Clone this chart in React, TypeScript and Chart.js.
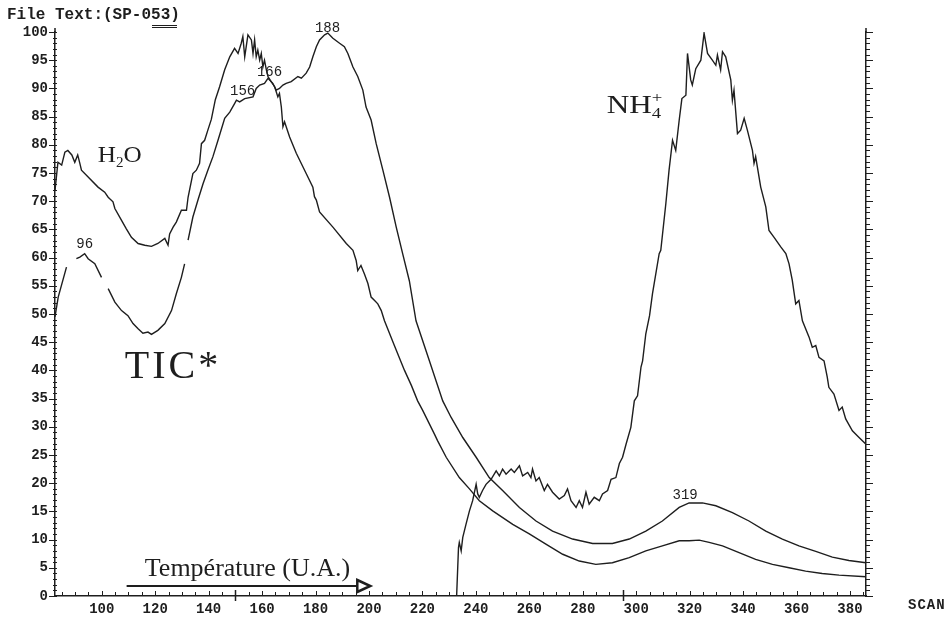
import React, { useEffect, useRef } from 'react';
import { Chart, registerables } from 'chart.js';

Chart.register(...registerables);

const MONO = '"Liberation Mono", "DejaVu Sans Mono", monospace';
const SERIF = '"Liberation Serif", "DejaVu Serif", serif';
const INK = '#1e1e1e';

// ---- axes ----
const xMin = 82.5;
const xMax = 386;
const xTickLabels = [100, 120, 140, 160, 180, 200, 220, 240, 260, 280, 300, 320, 340, 360, 380];
const yTickLabels = [0, 5, 10, 15, 20, 25, 30, 35, 40, 45, 50, 55, 60, 65, 70, 75, 80, 85, 90, 95, 100];
const longTickX = [150, 295];

// ---- H2O trace ----
const h2oX = [82.5, 83.6, 85.0, 86.2, 87.3, 88.8, 89.9, 91.0, 91.8, 92.4, 94.9, 98.6, 101.1, 102.4, 104.2, 104.9, 107.4, 109.2, 111.1, 113.6, 116.1, 118.6, 121.0, 123.6, 124.8, 125.4, 126.7, 127.9, 129.8, 131.7, 132.3, 134.1, 135.4, 136.6, 137.3, 138.5, 139.7, 141.0, 142.5, 144.1, 146.0, 147.9, 149.7, 151.0, 152.2, 152.8, 153.5, 154.7, 156.0, 156.6, 157.2, 157.8, 158.4, 159.1, 159.7, 160.3, 160.9, 161.6, 162.2, 163.4, 164.7, 165.9, 166.5, 167.2, 167.8, 168.4, 170.3, 172.8, 176.5, 179.0, 179.6, 180.3, 181.5, 186.5, 191.5, 194.0, 195.2, 195.8, 197.0, 198.3, 199.6, 200.8, 202.1, 203.3, 204.6, 205.8, 209.5, 213.3, 215.9, 218.2, 220.1, 224.5, 225.7, 228.9, 233.8, 237.6, 241.3, 246.3, 253.8, 260.0, 266.2, 272.5, 278.7, 284.9, 291.1, 297.4, 303.6, 309.8, 316.1, 319.8, 323.6, 327.3, 332.3, 338.5, 344.7, 351.0, 357.2, 363.4, 369.6, 375.9, 386];
const h2oY = [71.9, 76.9, 76.4, 78.7, 79.0, 78.2, 76.9, 78.2, 76.7, 75.5, 74.3, 72.5, 71.6, 70.7, 69.9, 68.7, 66.6, 65.1, 63.6, 62.5, 62.2, 62.0, 62.5, 63.4, 62.2, 64.2, 65.4, 66.3, 68.4, 68.4, 70.7, 74.9, 75.5, 76.7, 80.2, 80.8, 82.6, 84.5, 88.0, 90.3, 93.3, 95.6, 97.1, 96.2, 98.0, 99.2, 95.6, 99.5, 98.6, 96.2, 98.6, 95.6, 96.8, 95.0, 96.2, 93.8, 95.0, 93.3, 92.1, 91.2, 90.3, 88.5, 89.1, 86.7, 83.2, 84.1, 81.4, 78.5, 74.9, 72.5, 70.8, 70.2, 68.1, 65.4, 62.5, 61.3, 59.5, 57.7, 58.6, 57.1, 55.4, 53.0, 52.4, 51.8, 50.6, 48.8, 44.4, 40.0, 37.3, 34.6, 32.9, 28.7, 27.5, 24.6, 21.0, 19.0, 16.9, 15.1, 12.7, 11.0, 9.2, 7.4, 6.2, 5.6, 5.9, 6.8, 8.0, 8.9, 9.8, 9.8, 9.9, 9.5, 8.9, 7.7, 6.5, 5.6, 5.0, 4.4, 4.0, 3.7, 3.4];

// ---- TIC trace (null = printing gap) ----
const ticX = [82.5, 83.7, 86.8, 88.6, 90.5, 91.8, 93.6, 94.9, 97.4, 99.9, 101.0, 102.4, 104.9, 107.4, 109.8, 111.7, 113.6, 115.4, 117.3, 118.6, 121.0, 123.6, 126.1, 127.9, 129.8, 131.0, 131.6, 132.3, 134.1, 136.0, 137.9, 139.7, 141.6, 143.5, 146.0, 147.9, 149.7, 150.4, 151.6, 153.5, 156.6, 157.8, 159.1, 160.9, 162.2, 164.0, 165.3, 166.5, 167.8, 169.0, 170.9, 173.4, 174.7, 176.5, 177.8, 179.0, 180.3, 181.5, 183.4, 184.6, 186.5, 189.0, 190.8, 192.1, 194.0, 195.8, 197.7, 198.9, 200.8, 202.7, 205.2, 207.7, 210.2, 212.6, 215.1, 217.6, 222.6, 227.6, 230.7, 235.1, 240.1, 245.0, 250.0, 256.3, 262.5, 268.7, 276.2, 283.7, 291.1, 297.4, 303.6, 309.8, 316.1, 319.8, 324.8, 329.8, 336.0, 342.2, 348.5, 354.7, 360.9, 367.2, 373.4, 379.6, 386];
const ticY = [49.5, 53.0, 58.3, null, 59.8, 60.1, 60.7, 59.8, 58.9, 56.5, null, 54.5, 52.1, 50.6, 49.7, 48.3, 47.4, 46.6, 46.8, 46.4, 47.1, 48.3, 50.6, 53.6, 56.5, 58.9, null, 63.1, 67.2, 70.2, 73.1, 75.5, 77.9, 80.8, 84.7, 85.8, 87.3, 87.9, 87.6, 88.2, 88.5, 90.0, 90.6, 90.9, 91.8, 90.9, 89.7, 90.0, 90.6, 90.9, 91.2, 92.1, 91.8, 92.7, 93.8, 95.6, 97.4, 98.6, 99.5, 99.8, 98.9, 98.0, 97.4, 96.2, 93.8, 92.1, 89.7, 86.7, 84.4, 80.2, 75.5, 70.7, 65.4, 60.7, 55.9, 48.8, 41.7, 34.6, 31.7, 28.1, 24.6, 21.0, 18.7, 15.7, 13.3, 11.5, 10.1, 9.3, 9.3, 10.1, 11.5, 13.3, 15.7, 16.5, 16.5, 16.0, 14.8, 13.3, 11.5, 10.1, 8.9, 7.9, 6.9, 6.3, 5.9];

// ---- NH4+ trace ----
const nh4X = [232.8, 233.5, 233.8, 234.5, 235.1, 236.3, 237.6, 238.8, 240.1, 240.7, 241.3, 242.5, 243.8, 245.7, 247.6, 248.8, 250.0, 251.3, 253.2, 254.4, 256.3, 257.5, 259.4, 260.6, 261.2, 262.5, 263.7, 265.6, 266.8, 268.7, 271.2, 273.1, 274.3, 275.6, 277.5, 278.7, 279.9, 281.2, 282.4, 284.3, 286.2, 287.4, 289.3, 290.6, 292.4, 293.7, 294.9, 296.2, 298.0, 299.3, 300.5, 301.8, 302.4, 303.6, 305.0, 306.1, 308.6, 309.2, 311.1, 312.3, 313.6, 314.8, 316.1, 317.1, 318.6, 319.2, 320.4, 321.0, 322.3, 324.2, 325.4, 326.7, 328.5, 329.8, 330.4, 331.6, 332.3, 333.5, 335.4, 336.0, 336.6, 337.9, 339.1, 340.4, 341.6, 343.5, 344.1, 344.7, 346.6, 348.5, 349.7, 351.6, 354.1, 356.0, 357.2, 358.4, 359.7, 360.9, 362.2, 364.7, 365.9, 367.2, 368.4, 370.3, 371.5, 372.1, 374.0, 375.9, 377.1, 378.4, 380.9, 383.4, 386];
const nh4Y = [0, 8.6, 9.5, 8.0, 10.4, 12.7, 15.1, 16.9, 19.8, 18.1, 17.5, 18.7, 19.8, 20.7, 22.2, 21.3, 22.5, 21.6, 22.5, 21.9, 23.1, 21.3, 21.9, 21.0, 22.5, 20.4, 21.0, 18.7, 19.8, 18.4, 17.2, 17.8, 19.0, 16.9, 15.7, 16.9, 15.7, 18.4, 16.3, 17.5, 16.9, 18.1, 18.7, 20.7, 21.0, 23.5, 24.6, 26.9, 29.9, 34.6, 35.5, 40.6, 41.7, 46.5, 49.7, 53.6, 60.7, 61.3, 69.6, 75.5, 80.8, 79.0, 84.4, 88.2, 88.8, 96.2, 91.5, 90.6, 93.5, 95.0, 99.8, 96.2, 95.0, 94.1, 95.9, 93.3, 96.5, 95.6, 91.5, 87.9, 89.7, 82.0, 82.6, 84.7, 82.6, 79.0, 76.7, 77.9, 72.5, 69.0, 64.8, 63.6, 61.9, 60.7, 58.9, 56.0, 51.8, 52.4, 48.8, 45.9, 44.1, 44.4, 42.3, 41.7, 38.8, 37.0, 35.8, 32.9, 33.5, 31.4, 29.3, 28.1, 26.9];

// ---- peak scan numbers ----
const peakText = ['96', '156', '166', '188', '319'];
const peakX = [93.6, 152.7, 162.8, 184.5, 318.3];
const peakY = [62.3, 89.5, 92.9, 100.7, 17.9];

const minorX: number[] = [];
for (let v = 85; v <= 385; v += 5) minorX.push(v);
const minorY: number[] = [];
for (let v = 0; v <= 100; v += 1) minorY.push(v);

const pts = (xs: number[], ys: (number | null)[]) => xs.map((x, i) => ({ x, y: ys[i] }));

const lineStyle = {
  borderColor: INK,
  borderWidth: 1.4,
  pointRadius: 0,
  tension: 0,
  fill: false,
  spanGaps: false,
};

// parts: [text, kind, stack] — kind '' | 'sub' | 'sup'; stack = draw at same x as previous piece
function drawChem(
  ctx: CanvasRenderingContext2D,
  x: number,
  y: number,
  size: number,
  stretch: number,
  parts: [string, string, boolean][]
) {
  ctx.save();
  ctx.translate(x, y);
  ctx.scale(stretch, 1);
  let cx = 0;
  let prevX = 0;
  for (const [t, kind, stack] of parts) {
    const s = kind === '' ? size : size * 0.6;
    ctx.font = `${s}px ${SERIF}`;
    const dy = kind === 'sub' ? size * 0.2 : kind === 'sup' ? -size * 0.42 : 0;
    const px = stack ? prevX : cx;
    ctx.fillText(t, px, dy);
    prevX = px;
    cx = Math.max(cx, px + ctx.measureText(t).width);
  }
  ctx.restore();
}

const annotPlugin = {
  id: 'annot',
  afterDraw(chart: any) {
    const ctx: CanvasRenderingContext2D = chart.ctx;
    const { left, right, top, bottom } = chart.chartArea;
    const xs = chart.scales.x;
    const ys = chart.scales.y;
    ctx.save();
    ctx.strokeStyle = INK;
    ctx.fillStyle = INK;
    ctx.lineWidth = 1;

    // x tick marks (inside, upward)
    for (const t of xs.ticks) {
      const p = Math.round(xs.getPixelForValue(t.value)) + 0.5;
      const major = t.value % 20 === 0;
      ctx.beginPath();
      ctx.moveTo(p, bottom);
      ctx.lineTo(p, bottom - (major ? 5 : 4));
      ctx.stroke();
    }
    ctx.lineWidth = 1.5;
    for (const v of longTickX) {
      const p = Math.round(xs.getPixelForValue(v)) + 0.5;
      ctx.beginPath();
      ctx.moveTo(p, bottom + 5);
      ctx.lineTo(p, bottom - 6);
      ctx.stroke();
    }
    ctx.lineWidth = 1;
    // left y tick marks
    for (const t of ys.ticks) {
      const p = Math.round(ys.getPixelForValue(t.value)) + 0.5;
      const major = t.value % 5 === 0;
      ctx.beginPath();
      ctx.moveTo(left - (major ? 6 : 2), p);
      ctx.lineTo(left + 2, p);
      ctx.stroke();
    }
    // right y tick marks
    for (const t of ys.ticks) {
      const p = Math.round(ys.getPixelForValue(t.value)) + 0.5;
      const major = t.value % 5 === 0;
      ctx.beginPath();
      ctx.moveTo(right, p);
      ctx.lineTo(right + (major ? 7 : 4), p);
      ctx.stroke();
    }
    // axis extensions above 100
    ctx.lineWidth = 1.5;
    ctx.beginPath();
    ctx.moveTo(left, top);
    ctx.lineTo(left, top - 4);
    ctx.moveTo(right, top);
    ctx.lineTo(right, top - 4);
    ctx.stroke();

    // header
    ctx.font = `bold 16px ${MONO}`;
    ctx.textBaseline = 'middle';
    ctx.textAlign = 'left';
    ctx.fillText('File Text:(SP-053)', 7, 15);
    ctx.lineWidth = 1;
    ctx.beginPath();
    ctx.moveTo(152, 25.5);
    ctx.lineTo(177, 25.5);
    ctx.moveTo(152, 27.5);
    ctx.lineTo(177, 27.5);
    ctx.stroke();

    // SCAN
    ctx.font = `bold 14px ${MONO}`;
    (ctx as any).letterSpacing = '1px';
    ctx.fillText('SCAN', 908, 605);
    (ctx as any).letterSpacing = '0px';

    // peak numbers
    ctx.font = `14px ${MONO}`;
    ctx.textAlign = 'center';
    peakText.forEach((t, i) => {
      ctx.fillText(t, xs.getPixelForValue(peakX[i]), ys.getPixelForValue(peakY[i]));
    });

    // species labels
    ctx.textAlign = 'left';
    ctx.textBaseline = 'alphabetic';
    drawChem(ctx, xs.getPixelForValue(98.5), ys.getPixelForValue(76.9), 24, 1.05, [
      ['H', '', false],
      ['2', 'sub', false],
      ['O', '', false],
    ]);
    drawChem(ctx, xs.getPixelForValue(289.0), ys.getPixelForValue(85.6), 26, 1.2, [
      ['NH', '', false],
      ['4', 'sub', false],
      ['+', 'sup', true],
    ]);
    ctx.font = `40px ${SERIF}`;
    (ctx as any).letterSpacing = '3px';
    ctx.fillText('TIC*', xs.getPixelForValue(108.6), ys.getPixelForValue(38.7));
    (ctx as any).letterSpacing = '0px';

    // temperature arrow
    ctx.font = `26px ${SERIF}`;
    ctx.fillText('Température (U.A.)', xs.getPixelForValue(116.1), ys.getPixelForValue(3.55));
    const ay = Math.round(ys.getPixelForValue(1.78));
    const ax0 = xs.getPixelForValue(109.3);
    const ax1 = xs.getPixelForValue(196.0);
    ctx.lineWidth = 2;
    ctx.beginPath();
    ctx.moveTo(ax0, ay);
    ctx.lineTo(ax1, ay);
    ctx.stroke();
    ctx.lineWidth = 2.5;
    ctx.fillStyle = '#fff';
    ctx.beginPath();
    ctx.moveTo(ax1 - 1, ay - 6);
    ctx.lineTo(ax1 + 12, ay);
    ctx.lineTo(ax1 - 1, ay + 6);
    ctx.closePath();
    ctx.fill();
    ctx.stroke();
    ctx.restore();
  },
};

export default function App() {
  const ref = useRef<HTMLCanvasElement>(null);
  useEffect(() => {
    const canvas = ref.current;
    if (!canvas) return;
    const tickFont = { family: MONO, size: 14, weight: 'bold' as const };
    const chart = new Chart(canvas, {
      type: 'line',
      data: {
        datasets: [
          { label: 'H2O', data: pts(h2oX, h2oY), ...lineStyle },
          { label: 'TIC*', data: pts(ticX, ticY), ...lineStyle },
          { label: 'NH4+', data: pts(nh4X, nh4Y), ...lineStyle },
        ] as any,
      },
      options: {
        responsive: false,
        animation: false,
        devicePixelRatio: 1,
        events: [],
        layout: { padding: { top: 32, left: 0, right: 0, bottom: 0 } },
        plugins: {
          legend: { display: false },
          tooltip: { enabled: false },
          title: { display: false },
        },
        scales: {
          x: {
            type: 'linear',
            position: 'bottom',
            min: xMin,
            max: xMax,
            bounds: 'data',
            afterBuildTicks: (s: any) => {
              s.ticks = minorX.map((v) => ({ value: v }));
            },
            afterFit: (s: any) => {
              s.height = 27;
            },
            grid: { display: false, drawTicks: false },
            border: { display: true, color: INK, width: 1.5 },
            ticks: {
              autoSkip: false,
              maxRotation: 0,
              minRotation: 0,
              padding: 5,
              color: INK,
              font: tickFont,
              callback: (v: any) => (xTickLabels.includes(Number(v)) ? String(v) : ''),
            },
          },
          y: {
            type: 'linear',
            position: 'left',
            min: 0,
            max: 100,
            bounds: 'data',
            afterBuildTicks: (s: any) => {
              s.ticks = minorY.map((v) => ({ value: v }));
            },
            afterFit: (s: any) => {
              s.width = 55;
            },
            grid: { display: false, drawTicks: false },
            border: { display: true, color: INK, width: 1.5 },
            ticks: {
              autoSkip: false,
              padding: 7,
              color: INK,
              font: tickFont,
              callback: (v: any) => (yTickLabels.includes(Number(v)) ? String(v) : ''),
            },
          },
          y2: {
            type: 'linear',
            position: 'right',
            min: 0,
            max: 100,
            bounds: 'data',
            afterFit: (s: any) => {
              s.width = 82;
            },
            grid: { display: false, drawTicks: false },
            border: { display: true, color: INK, width: 1.5 },
            ticks: { display: false },
          },
        },
      } as any,
      plugins: [annotPlugin],
    });
    return () => chart.destroy();
  }, []);
  return (
    <div style={{ position: 'fixed', left: 0, top: 0, width: 948, height: 623, background: '#fff' }}>
      <canvas ref={ref} width={948} height={623} style={{ display: 'block' }} />
    </div>
  );
}
